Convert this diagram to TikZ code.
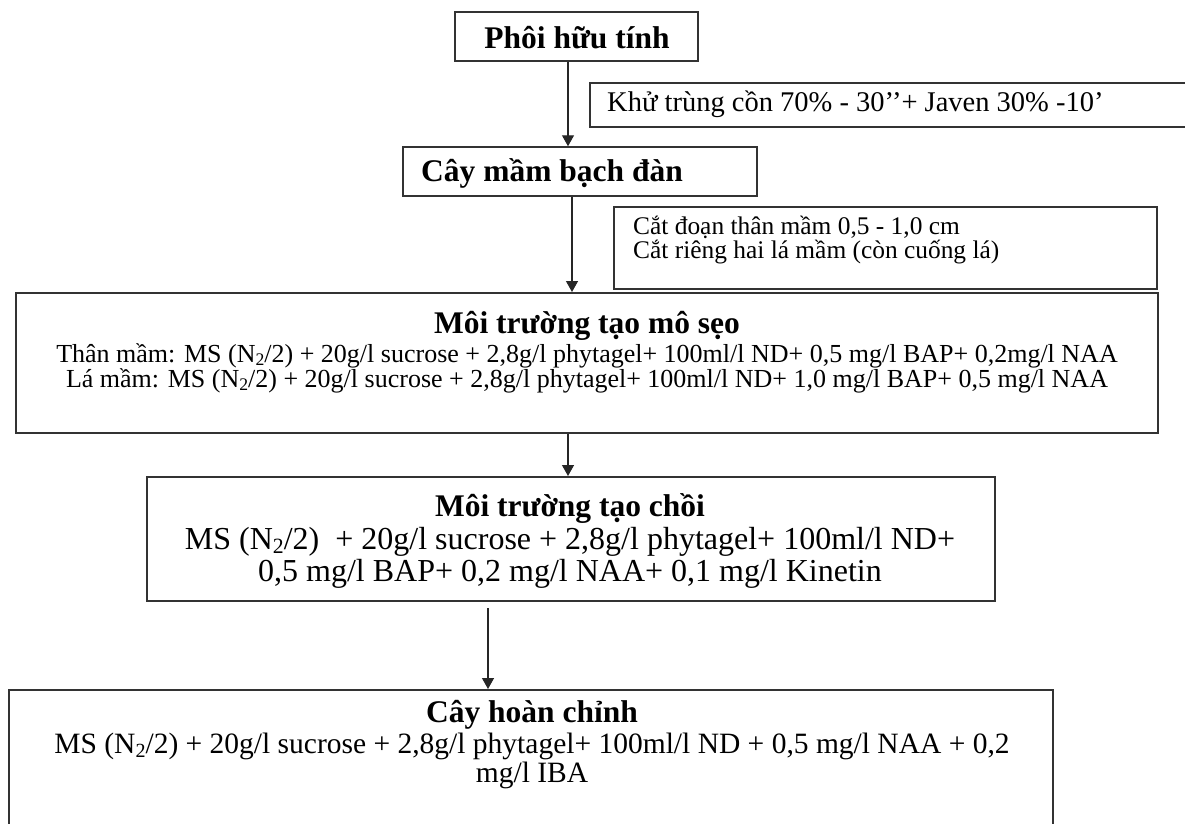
\documentclass[tikz,border=0pt]{standalone}
\usepackage{fontspec}
\setmainfont{Liberation Serif}
\usetikzlibrary{arrows.meta}
\newcommand{\sbtwo}{\raisebox{-0.12em}{\scalebox{0.68}{2}}}
\begin{document}
\begin{tikzpicture}[x=1pt,y=-1pt,
  boxst/.style={draw=black!80,line width=1.5pt,inner sep=0pt},
  arr/.style={draw=black!85,line width=1.3pt,-{Triangle[width=12pt,length=11pt]}},
  ttl/.style={font=\fontsize{31.5}{31.5}\selectfont\bfseries,inner sep=0pt},
  bodyA/.style={font=\fontsize{26}{24}\selectfont,inner sep=0pt,align=center},
  bodyB/.style={font=\fontsize{32}{32.5}\selectfont,inner sep=0pt,align=center},
  bodyC/.style={font=\fontsize{29.5}{28.5}\selectfont,inner sep=0pt,align=center},
  note/.style={inner sep=0pt,anchor=west,align=left}]
\useasboundingbox (0,0) rectangle (1185,823);
% boxes
\node[boxst,minimum width=243pt,minimum height=49pt] (b1) at (576.5,36.5) {};
\node[boxst,minimum width=620pt,minimum height=44pt,anchor=north west] (k) at (589,82) {};
\node[boxst,minimum width=354pt,minimum height=49pt] (b2) at (580,171.5) {};
\node[boxst,minimum width=543pt,minimum height=82pt,anchor=north west] (c) at (613,206) {};
\node[boxst,minimum width=1142pt,minimum height=140pt,anchor=north west] (b3) at (15,292) {};
\node[boxst,minimum width=848pt,minimum height=124pt,anchor=north west] (b4) at (146,476) {};
\node[boxst,minimum width=1044pt,minimum height=150pt,anchor=north west] (b5) at (8,689) {};
% texts
\node[ttl] (t1) at (577,38) {Phôi hữu tính};
\node[note,font=\fontsize{28.5}{30}\selectfont] (kt) at (607,104) {Khử trùng cồn 70\% - 30’’+ Javen 30\% -10’};
\node[ttl,anchor=west] (t2) at (421,173) {Cây mầm bạch đàn};
\node[note,font=\fontsize{25.4}{24}\selectfont,anchor=north west] (ct) at (633,216) {Cắt đoạn thân mầm 0,5 - 1,0 cm\\Cắt riêng hai lá mầm (còn cuống lá)};
\node[ttl] (t3) at (587,326) {Môi trường tạo mô sẹo};
\node[bodyA,anchor=north] (d3) at (587,343) {Thân mầm: MS (N\sbtwo/2) + 20g/l sucrose + 2,8g/l phytagel+ 100ml/l ND+ 0,5 mg/l BAP+ 0,2mg/l NAA\\
Lá mầm: MS (N\sbtwo/2) + 20g/l sucrose + 2,8g/l phytagel+ 100ml/l ND+ 1,0 mg/l BAP+ 0,5 mg/l NAA};
\node[ttl] (t4) at (570,509) {Môi trường tạo chồi};
\node[bodyB,anchor=north] (d4) at (570,527) {MS (N\sbtwo/2) \ + 20g/l sucrose + 2,8g/l phytagel+ 100ml/l ND+\\0,5 mg/l BAP+ 0,2 mg/l NAA+ 0,1 mg/l Kinetin};
\node[ttl] (t5) at (532,715) {Cây hoàn chỉnh};
\node[bodyC,anchor=north] (d5) at (532,733) {MS (N\sbtwo/2) + 20g/l sucrose + 2,8g/l phytagel+ 100ml/l ND + 0,5 mg/l NAA + 0,2\\mg/l IBA};
% arrows
\coordinate (x1) at (568,0);
\coordinate (x2) at (572,0);
\coordinate (x3) at (568,0);
\coordinate (x4) at (488,0);
\coordinate (s4) at (488,608);
\draw[arr] (b1.south -| x1) -- (b2.north -| x1);
\draw[arr] (b2.south -| x2) -- (b3.north -| x2);
\draw[arr] (b3.south -| x3) -- (b4.north -| x3);
\draw[arr] (s4) -- (b5.north -| x4);
\end{tikzpicture}
\end{document}
